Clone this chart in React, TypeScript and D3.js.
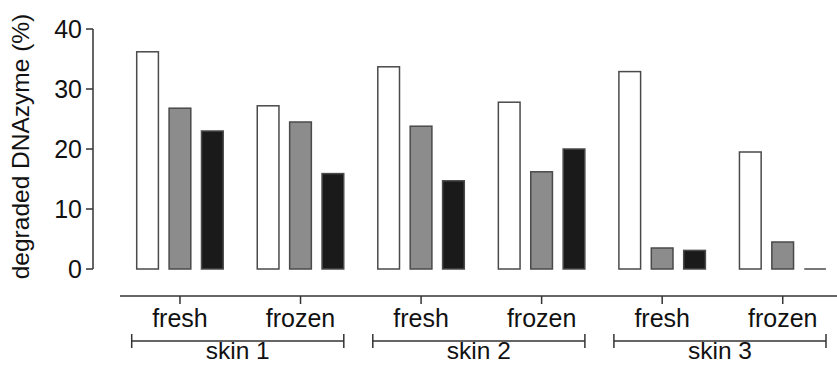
import React from "react";
import * as d3 from "d3";

const groups = ["s1-fresh", "s1-frozen", "s2-fresh", "s2-frozen", "s3-fresh", "s3-frozen"];
const groupLabels = ["fresh", "frozen", "fresh", "frozen", "fresh", "frozen"];
const skins = ["skin 1", "skin 2", "skin 3"];
const seriesKeys = ["a", "b", "c"];
const seriesA = [36.2, 27.2, 33.7, 27.8, 32.9, 19.5];
const seriesB = [26.8, 24.5, 23.8, 16.2, 3.5, 4.5];
const seriesC = [23.0, 15.9, 14.7, 20.0, 3.1, 0];
const yTicks = [0, 10, 20, 30, 40];
const yLabel = "degraded DNAzyme (%)";

const W = 837;
const H = 365;
const FONT = "'Liberation Sans', Arial, Helvetica, sans-serif";
const fills = ["#ffffff", "#8c8c8c", "#1a1a1a"];

export default function App() {
  const y = d3.scaleLinear().domain([0, 40]).range([269, 29]);
  const x = d3.scaleBand<string>().domain(groups).range([119.7, 843]).padding(0);
  const inner = d3
    .scaleBand<string>()
    .domain(seriesKeys)
    .range([17, 103.5])
    .paddingInner(0.33)
    .paddingOuter(0);
  const seriesVals = [seriesA, seriesB, seriesC];
  const axisColor = "#333";

  return (
    <svg
      width={W}
      height={H}
      style={{ position: "absolute", left: 0, top: 0, background: "#fff" }}
      fontFamily={FONT}
    >
      {/* y axis */}
      <line x1={93} x2={93} y1={y(40)} y2={y(0)} stroke={axisColor} strokeWidth={1.5} />
      {yTicks.map((t) => (
        <g key={t}>
          <line x1={86} x2={93} y1={y(t)} y2={y(t)} stroke={axisColor} strokeWidth={1.5} />
          <text x={82} y={y(t)} dy="0.36em" textAnchor="end" fontSize={25} fill="#111">
            {t}
          </text>
        </g>
      ))}
      <text
        transform={`translate(29,146.5) rotate(-90)`}
        textAnchor="middle"
        fontSize={24.5}
        fill="#111"
      >
        {yLabel}
      </text>

      {/* bars */}
      {groups.map((g, gi) => (
        <g key={g} transform={`translate(${x(g)},0)`}>
          {seriesKeys.map((s, si) => {
            const v = seriesVals[si][gi];
            const bx = inner(s) as number;
            if (y(0) - y(v) < 0.5) {
              return (
                <line
                  key={s}
                  x1={bx}
                  x2={bx + inner.bandwidth()}
                  y1={y(v)}
                  y2={y(v)}
                  stroke="#4a4a4a"
                  strokeWidth={1.5}
                />
              );
            }
            return (
              <rect
                key={s}
                x={bx}
                width={inner.bandwidth()}
                y={y(v)}
                height={y(0) - y(v)}
                fill={fills[si]}
                stroke="#4a4a4a"
                strokeWidth={1.5}
              />
            );
          })}
        </g>
      ))}

      {/* x axis */}
      <line x1={120} x2={W} y1={296} y2={296} stroke={axisColor} strokeWidth={1.5} />
      {groups.map((g, gi) => {
        const cx = (x(g) as number) + 60.28;
        return (
          <g key={g}>
            <line x1={cx} x2={cx} y1={296} y2={304} stroke={axisColor} strokeWidth={1.5} />
            <text x={cx} y={327} textAnchor="middle" fontSize={25} fill="#111">
              {groupLabels[gi]}
            </text>
          </g>
        );
      })}

      {/* skin brackets */}
      {skins.map((s, si) => {
        const x0 = (x(groups[si * 2]) as number) + 12;
        const x1 = (x(groups[si * 2 + 1]) as number) + x.bandwidth() - 17;
        const cx = (x0 + x1) / 2;
        return (
          <g key={s}>
            <line x1={x0} x2={x1} y1={341} y2={341} stroke={axisColor} strokeWidth={1.5} />
            <line x1={x0} x2={x0} y1={334} y2={348} stroke={axisColor} strokeWidth={1.5} />
            <line x1={x1} x2={x1} y1={334} y2={348} stroke={axisColor} strokeWidth={1.5} />
            <text x={cx} y={359} textAnchor="middle" fontSize={24.5} fill="#111">
              {s}
            </text>
          </g>
        );
      })}
    </svg>
  );
}
